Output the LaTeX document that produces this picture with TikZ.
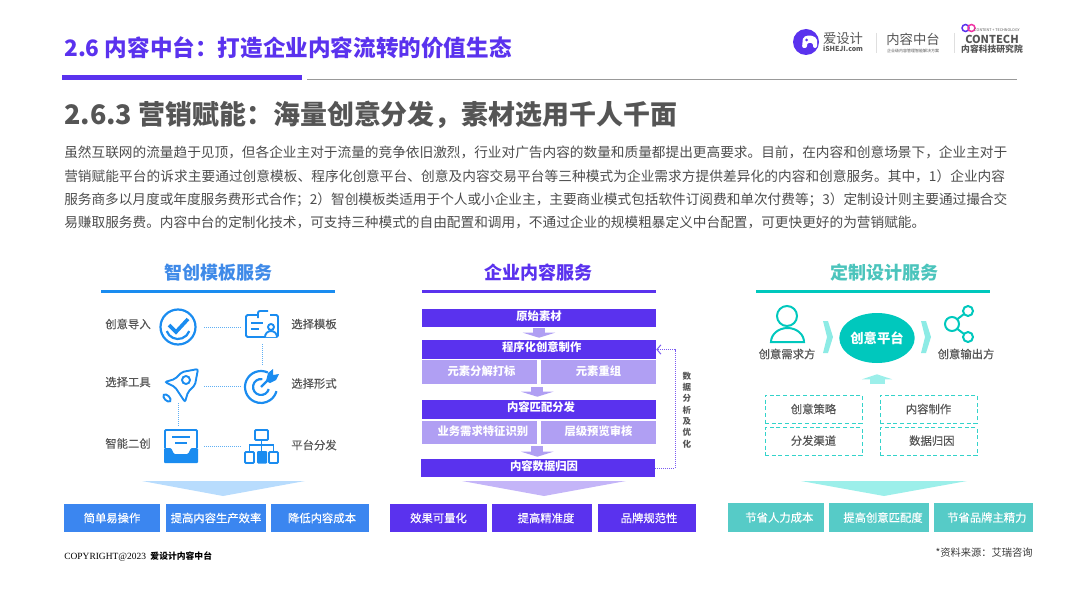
\documentclass[tikz,border=0pt]{standalone}
\usepackage{fontspec}
\setmainfont{Noto Sans CJK SC}
\newfontfamily\copyfont{Liberation Serif}
\newfontfamily\medfont[FakeBold=0.25]{Noto Sans CJK SC}
\usetikzlibrary{arrows.meta,shapes.geometric}
\definecolor{violet}{HTML}{5A32EE}
\definecolor{violetlt}{HTML}{B09FF3}
\definecolor{violetpl}{HTML}{C4B5F8}
\definecolor{azure}{HTML}{1A8CF0}
\definecolor{azurebox}{HTML}{3B86F0}
\definecolor{azurept}{HTML}{B8DCFD}
\definecolor{azurehd}{HTML}{3F8AE8}
\definecolor{teal1}{HTML}{00C8BD}
\definecolor{tealbox}{HTML}{56CBC7}
\definecolor{tealpl}{HTML}{9CEFEA}
\definecolor{tealhd}{HTML}{4BC4BC}
\definecolor{inkgray}{HTML}{555555}
\newlength\px
\setlength\px{0.75pt}
\newcommand\fsz[1]{\fontsize{#1pt}{#1pt}\selectfont}

\begin{document}
\begin{tikzpicture}[x=0.75pt,y=-0.75pt,
    lab/.style={text=inkgray,font=\medfont\fsz{8.5},inner sep=0pt},
    coltitle/.style={font=\bfseries\fsz{13.5},inner sep=0pt},
    colrule/.style={line width=3\px},
    perk/.style={minimum height=28\px,inner sep=0pt,text=white,font=\medfont\fsz{8.5}},
    bar/.style={fill=violet,minimum height=18\px,minimum width=234\px,inner sep=0pt,text=white,font=\bfseries\fsz{8.5},text height=7pt,text depth=3.5pt},
    subbar/.style={fill=violetlt,minimum height=24\px,minimum width=115\px,inner sep=0pt,text=white,font=\bfseries\fsz{8.5},text height=7pt,text depth=2.5pt},
    blockarrow/.style={draw=violetlt,line width=12\px,-{Triangle[length=3.75pt,width=24pt]}},
    iconline/.style={draw=azure,line width=1.9\px},
    iconleft/.style={minimum width=52\px,minimum height=34\px,inner sep=0pt},
    iconright/.style={minimum width=40\px,minimum height=34\px,inner sep=0pt},
    dotconn/.style={draw=azure!70,dash pattern=on 0.75pt off 0.75pt,line width=1\px},
    dashcell/.style={draw=teal1!80,densely dashed,line width=0.8\px,minimum width=97\px,minimum height=28\px,inner sep=0pt,text=inkgray,font=\medfont\fsz{8.5}},
    tealline/.style={draw=teal1,line width=2\px}]
    \useasboundingbox (0,0) rectangle (1080,602);

    % Page header
    \node[anchor=west,inner sep=0pt,text=violet,font=\bfseries\fsz{16.95}] (pagetitle) at (64,48) {2.6 内容中台：打造企业内容流转的价值生态};
    \fill[violet] (62,75) rectangle (302,80);
    \draw[gray!80,line width=1\px] (307,79.5) -- (1017,79.5);
    \node[anchor=west,inner sep=0pt,text=inkgray,font=\bfseries\fsz{20.2}] (sectitle) at (64,115) {2.6.3 营销赋能：海量创意分发，素材选用千人千面};

    % Logos
    \fill[violet] (806,42) circle (13\px);
    \fill[white,rounded corners=2\px] (802,48) -- (803,37) -- (810,35) -- (817,38) -- (817,48) -- (813,48) -- (813,43) -- (807,43) -- (807,48) -- cycle;
    \fill[violet] (806.5,40) circle (1.5\px);
    \node[inner sep=0pt,text=inkgray,font=\fsz{10}] (aisheji) at (843,38) {爱设计};
    \node[inner sep=0pt,text=inkgray,font=\bfseries\fsz{5.2}] (aishejiurl) at (843,49) {iSHEJI.com};
    \draw[gray!25,line width=1\px] (876,33) -- (876,53);
    \node[inner sep=0pt,text=inkgray,font=\fsz{10}] (zhongtai) at (913,39) {内容中台};
    \node[inner sep=0pt,text=inkgray,font=\fsz{3}] (zhongtaisub) at (913,51) {企业级内容管理智能解决方案};
    \draw[gray!25,line width=1\px] (954,33) -- (954,53);
    \draw[violet,line width=1.5\px] (965.5,28) circle (3.5\px);
    \draw[magenta!80,line width=1.5\px] (971.5,28) circle (3.5\px);
    \node[inner sep=0pt,text=inkgray,font=\fsz{2.8}] (contechtop) at (997,30) {CONTENT + TECHNOLOGY};
    \node[inner sep=0pt,text=inkgray,font=\bfseries\fsz{8.2}] (contech) at (992,39) {CONTECH};
    \node[inner sep=0pt,text=inkgray,font=\bfseries\fsz{6.6}] (contechsub) at (992,49) {内容科技研究院};

    % Intro text
    \node[anchor=north west,inner sep=0pt,text=inkgray!90!black,text width=943\px,font=\fsz{10.25}] (intro) at (64,146) {\XeTeXlinebreaklocale "zh"\XeTeXlinebreakskip=0pt plus 0.6pt minus 0.25pt\baselineskip=17.5pt\parindent=0pt
    虽然互联网的流量趋于见顶，但各企业主对于流量的竞争依旧激烈，行业对广告内容的数量和质量都提出更高要求。目前，在内容和创意场景下，企业主对于\linebreak 营销赋能平台的诉求主要通过创意模板、程序化创意平台、创意及内容交易平台等三种模式为企业需求方提供差异化的内容和创意服务。其中，1）企业内容\linebreak 服务商多以月度或年度服务费形式合作；2）智创模板类适用于个人或小企业主，主要商业模式包括软件订阅费和单次付费等；3）定制设计则主要通过撮合交\linebreak 易赚取服务费。内容中台的定制化技术，可支持三种模式的自由配置和调用，不通过企业的规模粗暴定义中台配置，可更快更好的为营销赋能。\par};

    % Left column
    \node[coltitle,text=azurehd] (lefttitle) at (218,272.5) {智创模板服务};
    \draw[colrule,azure] (101,291) -- (335,291);
    \node[lab] (lab1) at (128,324) {创意导入};
    \node[lab] (lab2) at (314,324) {选择模板};
    \node[lab] (lab3) at (128,382) {选择工具};
    \node[lab] (lab4) at (314,383.5) {选择形式};
    \node[lab] (lab5) at (128,443.5) {智能二创};
    \node[lab] (lab6) at (314,445) {平台分发};
    \node[iconleft] (iconcheck) at (178,327) {};
    \node[iconright] (iconcard) at (262,327) {};
    \node[iconleft] (iconrocket) at (178,386) {};
    \node[iconright,minimum height=40\px] (icontarget) at (262,386) {};
    \node[iconleft,minimum height=40\px] (icontray) at (178,446) {};
    \node[iconright,minimum height=40\px] (iconorg) at (262,446) {};
    \draw[dotconn] (iconcheck) -- (iconcard);
    \draw[dotconn] (iconcard) -- (icontarget);
    \draw[dotconn] (iconrocket) -- (icontarget);
    \draw[dotconn] (iconrocket) -- (icontray);
    \draw[dotconn] (icontray) -- (iconorg);
    % check icon
    \draw[iconline,line width=2.2\px] (178,327) circle (17.5\px);
    \draw[iconline,line width=2.2\px] ([shift=(200:12\px)]178,327) arc[start angle=200,end angle=340,radius=12\px];
    \draw[iconline,line width=3.6\px] (169,325) -- (176,332) -- (188,319);
    % card icon
    \draw[iconline,rounded corners=1.5\px] (258,315) -- (246,315) -- (246,337) -- (278,337) -- (278,315) -- (270,315);
    \draw[iconline] (258,318) -- (258,313) arc[start angle=180,end angle=90,radius=2\px] -- (268,311);
    \draw[iconline] (251,323) -- (263,323) (251,329) -- (259,329);
    \draw[iconline,fill=white] (271,327) circle (3\px);
    \draw[iconline,fill=white] (265,337) arc[start angle=180,end angle=0,radius=6\px];
    % rocket icon
    \draw[iconline,rounded corners=2\px] (198,369) -- (182,372) -- (175,379) -- (165,382) -- (175,387) -- (185,402) -- (188,392) -- (195,385) -- cycle;
    \draw[iconline] (186,380) circle (4\px);
    \draw[iconline,rotate around={-45:(167,398)}] (167,398) ellipse [x radius=4.5\px,y radius=2.5\px];
    % target icon
    \draw[iconline,line width=2.2\px] ([shift=(65:16\px)]261,387) arc[start angle=65,end angle=345,radius=16\px];
    \draw[iconline,line width=2.2\px] ([shift=(80:8\px)]261,387) arc[start angle=80,end angle=345,radius=8\px];
    \draw[iconline,line width=2.2\px] (261,387) -- (270,378);
    \fill[azure] (266,381) -- (268,373) -- (273,369) -- (273,375) -- (279,374) -- (276,380) -- (270,383) -- cycle;
    % tray icon
    \draw[iconline,rounded corners=1\px] (165,448) -- (165,430) -- (197,430) -- (197,448);
    \fill[azure,rounded corners=1\px] (164,448) -- (171,448) -- (174,454) -- (188,454) -- (191,448) -- (198,448) -- (198,463) -- (164,463) -- cycle;
    \draw[iconline] (172,437) -- (190,437) (175,443) -- (187,443);
    % org icon
    \draw[iconline,rounded corners=1\px] (255,430) rectangle (268,440);
    \draw[iconline] (261.5,440) -- (261.5,452) (249.5,452) -- (249.5,445) -- (273.5,445) -- (273.5,452);
    \draw[iconline,rounded corners=1\px] (245,452) rectangle (254,463) (269,452) rectangle (278,463);
    \fill[azure,rounded corners=1\px] (257,451) rectangle (267,463.5);
    % Left results
    \fill[azurept] (142,481) -- (305,481) -- (223,496) -- cycle;
    \node[perk,fill=azurebox,minimum width=96\px] (easy) at (112,518) {简单易操作};
    \node[perk,fill=azurebox,minimum width=100\px] (speed) at (216,518) {提高内容生产效率};
    \node[perk,fill=azurebox,minimum width=98\px] (cost) at (320,518) {\hspace*{3pt}降低内容成本};

    % Middle column
    \node[coltitle,text=violet] (midtitle) at (538,272.5) {企业内容服务};
    \draw[colrule,violet] (422,291) -- (656,291);
    \node[bar] (rawbox) at (539,318) {原始素材};
    \node[bar,minimum height=19\px] (progbox) at (539,349.5) {\hspace*{4pt}程序化创意制作};
    \node[subbar] (decobox) at (479.5,372) {\hspace*{3pt}元素分解打标};
    \node[subbar] (regroupbox) at (598.5,372) {元素重组};
    \node[bar,minimum height=19\px] (matchbox) at (539,409.5) {\hspace*{3pt}内容匹配分发};
    \node[subbar,minimum height=23\px] (featbox) at (479.5,432.5) {\hspace*{5pt}业务需求特征识别};
    \node[subbar,minimum height=23\px] (reviewbox) at (598.5,432.5) {层级预览审核};
    \node[bar] (attrbox) at (538,468) {\hspace*{9pt}内容数据归因};
    \draw[blockarrow,shorten <=1\px,shorten >=2\px] (rawbox) -- (progbox);
    \draw[blockarrow,shorten <=3\px,shorten >=3\px] (decobox.south east) -- (decobox.east |- matchbox.north);
    \draw[blockarrow,shorten <=2\px,shorten >=2\px] (featbox.south east) -- (featbox.east |- attrbox.north);
    % Feedback loop
    \coordinate (fbturn) at (675,400);
    \draw[violet!80,dash pattern=on 0.75pt off 0.75pt,line width=1\px,-{Straight Barb[length=3pt,width=7pt]}] (attrbox.east) -| (fbturn) |- (progbox.east);
    \node[inner sep=0pt,align=center,text=inkgray,font=\bfseries\fontsize{6.4pt}{8.5pt}\selectfont] (fblabel) at (687,410) {数\\据\\分\\析\\及\\优\\化};
    % Middle results
    \fill[violetpl] (462,481) -- (626,481) -- (544,496) -- cycle;
    \node[perk,fill=violet,minimum width=97\px] (measure) at (438.5,518) {效果可量化};
    \node[perk,fill=violet,minimum width=100\px] (precise) at (542,518) {\hspace*{6pt}提高精准度};
    \node[perk,fill=violet,minimum width=98\px] (brand) at (647,518) {\hspace*{3pt}品牌规范性};

    % Right column
    \node[coltitle,text=tealhd] (righttitle) at (884,272.5) {定制设计服务};
    \draw[colrule,teal1] (756,291) -- (990,291);
    \draw[tealline] (787,316) circle (10\px);
    \draw[tealline] (771,342) arc[start angle=180,end angle=0,x radius=16.5\px,y radius=14\px] -- cycle;
    \node[lab] (demand) at (787,354) {创意需求方};
    \fill[tealpl!90!teal1] (823,321) -- (828,321) -- (833,337) -- (828,353) -- (823,353) -- (827,337) -- cycle;
    \node[ellipse,fill=teal1,minimum width=70\px,minimum height=50\px,inner sep=0pt,text=white,font=\bfseries\fsz{10}] (platform) at (877,338) {创意平台};
    \fill[tealpl!90!teal1] (921,321) -- (926,321) -- (931,337) -- (926,353) -- (921,353) -- (925,337) -- cycle;
    \draw[tealline] (968,311) circle (5\px) (968,337) circle (5\px) (952,324) circle (7\px);
    \draw[tealline] (957.5,319) -- (964,314) (957.5,329) -- (964,334);
    \node[lab] (output) at (966,354) {创意输出方};
    \coordinate (upbase) at (877,384);
    \draw[tealpl,line width=15\px,-{Triangle[length=3.75pt,width=22.5pt]},shorten >=11\px] (upbase) -- (platform.south);
    \node[dashcell] (strategy) at (813.5,409) {创意策略};
    \node[dashcell] (channel) at (813.5,441.5) {\raisebox{2pt}{分发渠道}};
    \node[dashcell] (produce) at (928.5,409) {内容制作};
    \node[dashcell] (dataattr) at (928.5,441.5) {\hspace*{5pt}\raisebox{2pt}{数据归因}};
    % Right results
    \fill[tealpl] (801,481) -- (967,481) -- (884,496) -- cycle;
    \node[perk,fill=tealbox,minimum width=96\px,minimum height=29\px] (labor) at (776,517.5) {\hspace*{5pt}节省人力成本};
    \node[perk,fill=tealbox,minimum width=100\px,minimum height=29\px] (fit) at (879,517.5) {\hspace*{6pt}提高创意匹配度};
    \node[perk,fill=tealbox,minimum width=99\px,minimum height=29\px] (effort) at (983.5,517.5) {\hspace*{5pt}节省品牌主精力};

    % Footer
    \node[anchor=west,inner sep=0pt,font=\fsz{6.6}] (copyright) at (64,556.5) {{\copyfont\fsz{7.1}COPYRIGHT@2023}\enspace\textbf{爱设计内容中台}};
    \node[anchor=east,inner sep=0pt,text=inkgray!70!black,font=\fsz{7.7}] (source) at (1033,553) {*资料来源：艾瑞咨询};
\end{tikzpicture}
\end{document}
